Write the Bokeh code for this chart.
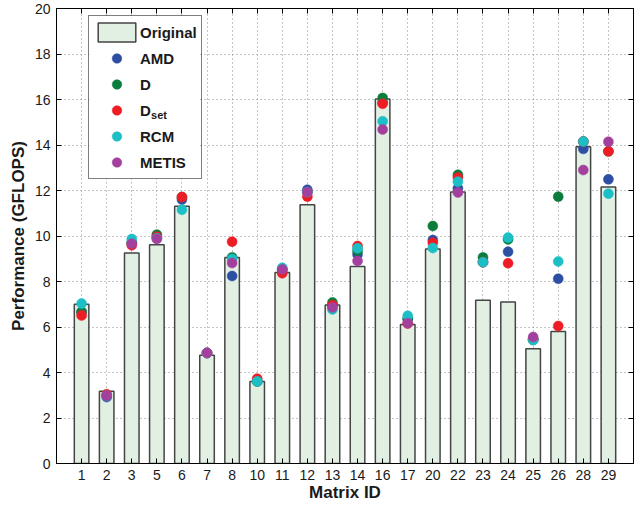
import math
from bokeh.plotting import figure
from bokeh.models import (Range1d, FixedTicker, LinearAxis, Legend, LegendItem,
                          BoxAnnotation, ColumnDataSource)
from bokeh.core.properties import value
from bokeh.embed import file_html
from bokeh.resources import INLINE

NaN = float("nan")

# ---------------- data ----------------
matrix_ids = ["1", "2", "3", "5", "6", "7", "8", "10", "11", "12", "13", "14",
              "16", "17", "20", "22", "23", "24", "25", "26", "28", "29"]
original = [7.0, 3.18, 9.25, 9.62, 11.31, 4.76, 9.06, 3.6, 8.4, 11.37, 6.97, 8.66,
            16.02, 6.11, 9.43, 11.93, 7.18, 7.1, 5.04, 5.8, 13.92, 12.15]
amd = [6.66, 2.92, 9.7, 9.95, 11.6, 4.86, 8.24, 3.61, 8.55, 12.03, 6.95, 9.19,
       15.87, 6.36, 9.82, 12.1, 8.85, 9.31, 5.45, 8.12, 13.83, 12.49]
d = [6.66, 2.98, 9.7, 10.06, 11.71, 4.86, 9.06, 3.61, 8.5, 11.93, 7.08, 9.35,
     16.07, 6.36, 10.44, 12.69, 9.06, 9.85, 5.45, 11.73, 14.15, 13.72]
d_set = [6.51, 3.04, 9.59, 9.97, 11.71, 4.86, 9.75, 3.73, 8.36, 11.73, 6.96, 9.56,
         15.81, 6.15, 9.7, 12.57, 8.85, 8.8, 5.45, 6.04, 14.15, 13.72]
rcm = [7.03, 2.98, 9.87, 9.9, 11.15, 4.86, 8.99, 3.61, 8.6, 11.93, 6.77, 9.46,
       15.04, 6.49, 9.47, 12.39, 8.85, 9.93, 5.42, 8.88, 14.15, 11.86]
metis = [NaN, 2.98, 9.66, 9.87, NaN, 4.86, 8.81, NaN, 8.53, 11.93, 6.86, 8.9,
         14.68, 6.17, NaN, 11.91, NaN, NaN, 5.56, NaN, 12.9, 14.14]
y_ticks = [0, 2, 4, 6, 8, 10, 12, 14, 16, 18, 20]

series_names = ["AMD", "D", "D", "RCM", "METIS"]
series_colors = ["#2d4fa3", "#0c7c3c", "#ee1c25", "#1cbfc6", "#a3409e"]

xpos = list(range(1, len(matrix_ids) + 1))
src = ColumnDataSource(dict(x=xpos, original=original, amd=amd, d=d, d_set=d_set,
                            rcm=rcm, metis=metis))
cols = ["amd", "d", "d_set", "rcm", "metis"]

FONT = "Liberation Sans"

p = figure(width=637, height=511, x_range=Range1d(0, len(matrix_ids) + 1),
           y_range=Range1d(0, 20), output_backend="svg", toolbar_location=None,
           min_border_left=56, min_border_right=4, min_border_top=8,
           min_border_bottom=48)
p.background_fill_color = "white"
p.border_fill_color = "white"
p.outline_line_color = "black"
p.outline_line_width = 1

# white backing for the legend box (hides grid lines behind it)
p.add_layout(BoxAnnotation(left=1.3, right=5.7, bottom=12.5, top=19.57,
                           fill_color="white", fill_alpha=1, line_color=None,
                           level="underlay"))

bars = p.vbar(x="x", top="original", width=0.58, source=src,
              fill_color="#e2f0e4", line_color="#444444", line_width=1.5)

renderers = []
for c, col in zip(cols, series_colors):
    r = p.scatter(x="x", y=c, source=src, size=10, fill_color=col,
                  line_color=col, line_width=0.5)
    renderers.append(r)

# axes
p.xaxis.ticker = FixedTicker(ticks=xpos)
p.xaxis.major_label_overrides = {i: m for i, m in zip(xpos, matrix_ids)}
p.yaxis.ticker = FixedTicker(ticks=y_ticks)
p.xaxis.axis_label = "Matrix ID"
p.yaxis.axis_label = "Performance (GFLOPS)"
for ax in [p.xaxis[0], p.yaxis[0]]:
    ax.axis_label_text_font = FONT
    ax.axis_label_text_font_style = "bold"
    ax.axis_label_text_font_size = "17px"
    ax.axis_label_text_color = "#1a1a1a"
    ax.major_label_text_font = FONT
    ax.major_label_text_font_size = "14px"
    ax.major_label_text_color = "#1a1a1a"
    ax.axis_line_color = "black"
    ax.major_tick_in = 5
    ax.major_tick_out = 0
    ax.minor_tick_line_color = None
    ax.major_label_standoff = 6
p.xaxis.axis_label_standoff = 0
p.yaxis.axis_label_standoff = 4

top_ax = LinearAxis(ticker=FixedTicker(ticks=xpos), major_label_text_font_size="0px",
                    major_label_standoff=0, major_tick_in=5, major_tick_out=0,
                    minor_tick_line_color=None, axis_line_color="black",
                    major_label_overrides={i: "" for i in xpos})
right_ax = LinearAxis(ticker=FixedTicker(ticks=y_ticks), major_label_text_font_size="0px",
                      major_label_standoff=0, major_tick_in=5, major_tick_out=0,
                      minor_tick_line_color=None, axis_line_color="black",
                      major_label_overrides={v: "" for v in y_ticks})
p.add_layout(top_ax, "above")
p.add_layout(right_ax, "right")

# grid
p.xgrid.ticker = FixedTicker(ticks=xpos)
p.ygrid.ticker = FixedTicker(ticks=y_ticks)
p.grid.grid_line_color = "#8a8a8a"
p.grid.grid_line_dash = "1 3"
p.grid.grid_line_width = 1

# subscript of D_set in the legend
p.text(x=[3.77], y=[15.3], text=["set"], text_font=value(FONT),
       text_font_style="bold", text_font_size="11px", text_color="#1a1a1a",
       text_baseline="middle", text_align="left")

# legend
items = [LegendItem(label="Original", renderers=[bars])]
for name, r in zip(series_names, renderers):
    items.append(LegendItem(label=name, renderers=[r]))
legend = Legend(items=items, location=(32, 284), padding=4, spacing=2,
                glyph_height=24, glyph_width=47, label_height=24, label_standoff=0,
                label_text_font=FONT, label_text_font_style="bold",
                label_text_font_size="15px", label_text_color="#1a1a1a",
                border_line_color="black", border_line_width=1.5,
                background_fill_alpha=0, margin=0)
p.add_layout(legend)

open("out.html", "w").write(file_html(p, INLINE))
